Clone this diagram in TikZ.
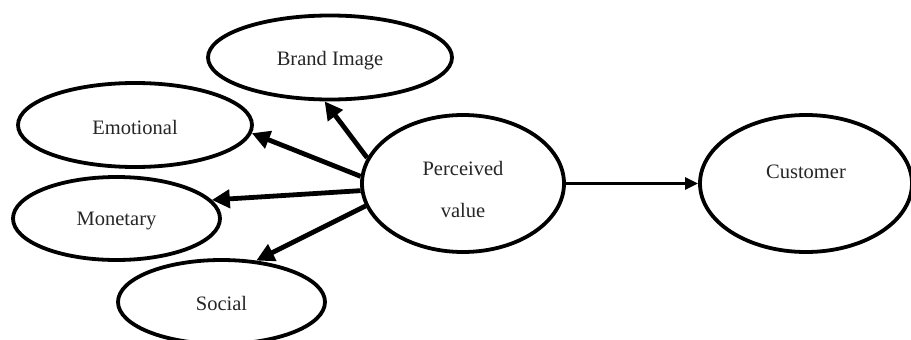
\documentclass[tikz,border=0pt]{standalone}
\usepackage{fontspec}
\setmainfont{Liberation Serif}
\usetikzlibrary{arrows.meta,shapes.geometric}
\begin{document}
\begin{tikzpicture}[x=1pt,y=-1pt,
  oval/.style={draw=black, line width=3.8pt, ellipse, inner sep=0pt, fill=white},
  lbl/.style={font=\fontsize{20.5}{42}\selectfont, text=black!85, align=center},
  thickarrow/.style={line width=4.8pt, -{Triangle[length=18pt,width=18pt]}},
  thinarrow/.style={line width=2.8pt, -{Triangle[length=13pt,width=12pt]}}]
  \useasboundingbox (0,0) rectangle (911,340);
  \clip (0,0) rectangle (911,340);
  \fill[white] (0,0) rectangle (911,340);

  % satellite ovals
  \node[oval, minimum width=244pt, minimum height=84pt] (brand) at (330,57.5) {};
  \node[oval, minimum width=234pt, minimum height=84pt] (emo) at (135,125) {};
  \node[oval, minimum width=207pt, minimum height=83pt] (mon) at (116.5,218.5) {};
  \node[oval, minimum width=207pt, minimum height=84pt] (soc) at (221.5,302) {};

  % central and target ovals
  \node[oval, minimum width=202pt, minimum height=137pt] (pv) at (463,183.5) {};
  \node[oval, minimum width=212pt, minimum height=137pt] (cust) at (806,183.5) {};

  % labels (yshift is upward on the page)
  \node[lbl] at ([yshift=-3pt]brand.center) {Brand Image};
  \node[lbl] at ([yshift=-2pt]emo.center) {Emotional};
  \node[lbl] at ([yshift=-2pt]mon.center) {Monetary};
  \node[lbl] at ([yshift=-1pt]soc.center) {Social};
  \node[lbl] at ([yshift=-5.5pt]pv.center) {Perceived\\value};
  \node[lbl] at ([yshift=12pt]cust.center) {Customer};

  % dimensions of perceived value
  \draw[thickarrow] (pv.165) -- (brand.263);
  \draw[thickarrow] (pv.176) -- (emo.356);
  \draw[thickarrow] (pv.184) -- (mon.11);
  \draw[thickarrow] (pv.193) -- (soc.50);

  % effect on the customer
  \draw[thinarrow] (pv.east) -- (cust.west);
\end{tikzpicture}
\end{document}
